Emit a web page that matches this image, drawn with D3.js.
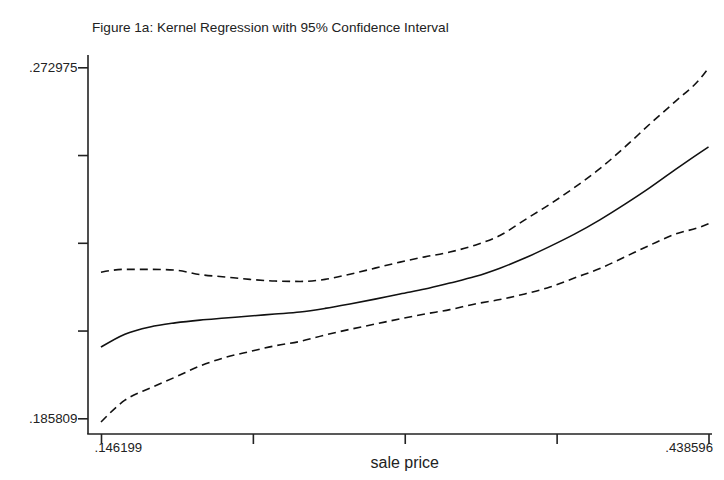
<!DOCTYPE html>
<html>
<head>
<meta charset="utf-8">
<script src="https://cdn.jsdelivr.net/npm/d3@7"></script>
<style>
  html, body { margin: 0; padding: 0; background: #fff; }
  svg { display: block; }
  text { font-family: "Liberation Sans", Arial, sans-serif; fill: #222; }
</style>
</head>
<body>
<svg id="chart" width="724" height="480"></svg>
<script>
// Sale price grid (x) and the kernel fit with its 95% band
const salePrice = [.146199, .1577, .1698, .1818, .1938, .2059, .2179, .2299, .2420, .2540,
                   .2660, .2781, .2901, .3021, .3141, .3262, .3382, .3502, .3623, .3743,
                   .3863, .3984, .4104, .4224, .4345, .438596];
const fit       = [.2035, .2067, .2085, .2095, .2102, .2107, .2112, .2117, .2122, .2131,
                   .2142, .2154, .2167, .2179, .2194, .2210, .2231, .2256, .2285, .2316,
                   .2351, .2390, .2431, .2475, .2518, .2532];
const upperCI   = [.2221, .2228, .2228, .2226, .2215, .2209, .2203, .2199, .2198, .2203,
                   .2216, .2231, .2246, .2259, .2271, .2288, .2312, .2351, .2390, .2432,
                   .2478, .2532, .2589, .2644, .2701, .2728];
const lowerCI   = [.1849, .1903, .1933, .1960, .1988, .2009, .2024, .2038, .2049, .2065,
                   .2079, .2092, .2105, .2117, .2128, .2142, .2153, .2167, .2184, .2207,
                   .2230, .2259, .2288, .2315, .2333, .2341];

const xTicks = [.146199, .219298, .292398, .365497, .438596];
const xTickLabels = [".146199", "", "", "", ".438596"];
const yTicks = [.185809, .207601, .229392, .251184, .272975];
const yTickLabels = [".185809", "", "", "", ".272975"];

const titleText = "Figure 1a: Kernel Regression with 95% Confidence Interval";
const xTitle = "sale price";

const svg = d3.select("#chart");
svg.append("rect").attr("width", 724).attr("height", 480).attr("fill", "#fff");

const x = d3.scaleLinear().domain([xTicks[0], xTicks[4]]).range([101, 708.5]);
const y = d3.scaleLinear().domain([yTicks[0], yTicks[4]]).range([418.3, 67.3]);

const axisX0 = 88, axisY0 = 434;
const axisColor = "#222";

// Title
svg.append("text")
  .attr("x", 92).attr("y", 32)
  .attr("font-size", 13.6)
  .text(titleText);

// Frame lines (left and bottom)
svg.append("line")
  .attr("x1", axisX0).attr("x2", axisX0)
  .attr("y1", 55).attr("y2", axisY0)
  .attr("stroke", axisColor).attr("stroke-width", 1.6);
svg.append("line")
  .attr("x1", axisX0 - 0.8).attr("x2", 712)
  .attr("y1", axisY0).attr("y2", axisY0)
  .attr("stroke", axisColor).attr("stroke-width", 1.6);

// Bottom axis ticks and labels
const gx = svg.append("g").attr("transform", `translate(0,${axisY0})`)
  .call(d3.axisBottom(x).tickValues(xTicks).tickSize(10).tickSizeOuter(0)
        .tickFormat((d, i) => xTickLabels[i]));
gx.select(".domain").remove();
gx.selectAll(".tick line").attr("stroke", axisColor).attr("stroke-width", 1.6);
gx.selectAll(".tick text")
  .attr("font-size", 13.2).attr("font-family", "Liberation Sans, Arial, sans-serif")
  .attr("fill", "#333").attr("dy", 0).attr("y", 18);
// end labels are kept inside the plot's horizontal extent
gx.selectAll(".tick text").filter((d, i) => i === 0)
  .attr("text-anchor", "start").attr("x", -7);
gx.selectAll(".tick text").filter((d, i) => i === xTicks.length - 1)
  .attr("text-anchor", "end").attr("x", 4);

// Left axis ticks and labels
const gy = svg.append("g").attr("transform", `translate(${axisX0},0)`)
  .call(d3.axisLeft(y).tickValues(yTicks).tickSize(10).tickSizeOuter(0)
        .tickFormat((d, i) => yTickLabels[i]));
gy.select(".domain").remove();
gy.selectAll(".tick line").attr("stroke", axisColor).attr("stroke-width", 1.6);
gy.selectAll(".tick text")
  .attr("font-size", 13.4).attr("font-family", "Liberation Sans, Arial, sans-serif")
  .attr("fill", "#333").attr("x", -10.5);

// Axis title
svg.append("text")
  .attr("x", x(xTicks[2])).attr("y", 468)
  .attr("text-anchor", "middle")
  .attr("font-size", 16)
  .text(xTitle);

// Curves
const line = d3.line().x((d, i) => x(salePrice[i])).y(d => y(d)).curve(d3.curveMonotoneX);

svg.append("path").datum(upperCI)
  .attr("d", line).attr("fill", "none")
  .attr("stroke", "#111").attr("stroke-width", 1.6).attr("stroke-dasharray", "8,5");
svg.append("path").datum(lowerCI)
  .attr("d", line).attr("fill", "none")
  .attr("stroke", "#111").attr("stroke-width", 1.6).attr("stroke-dasharray", "8,5");
svg.append("path").datum(fit)
  .attr("d", line).attr("fill", "none")
  .attr("stroke", "#111").attr("stroke-width", 1.6);
</script>
</body>
</html>
